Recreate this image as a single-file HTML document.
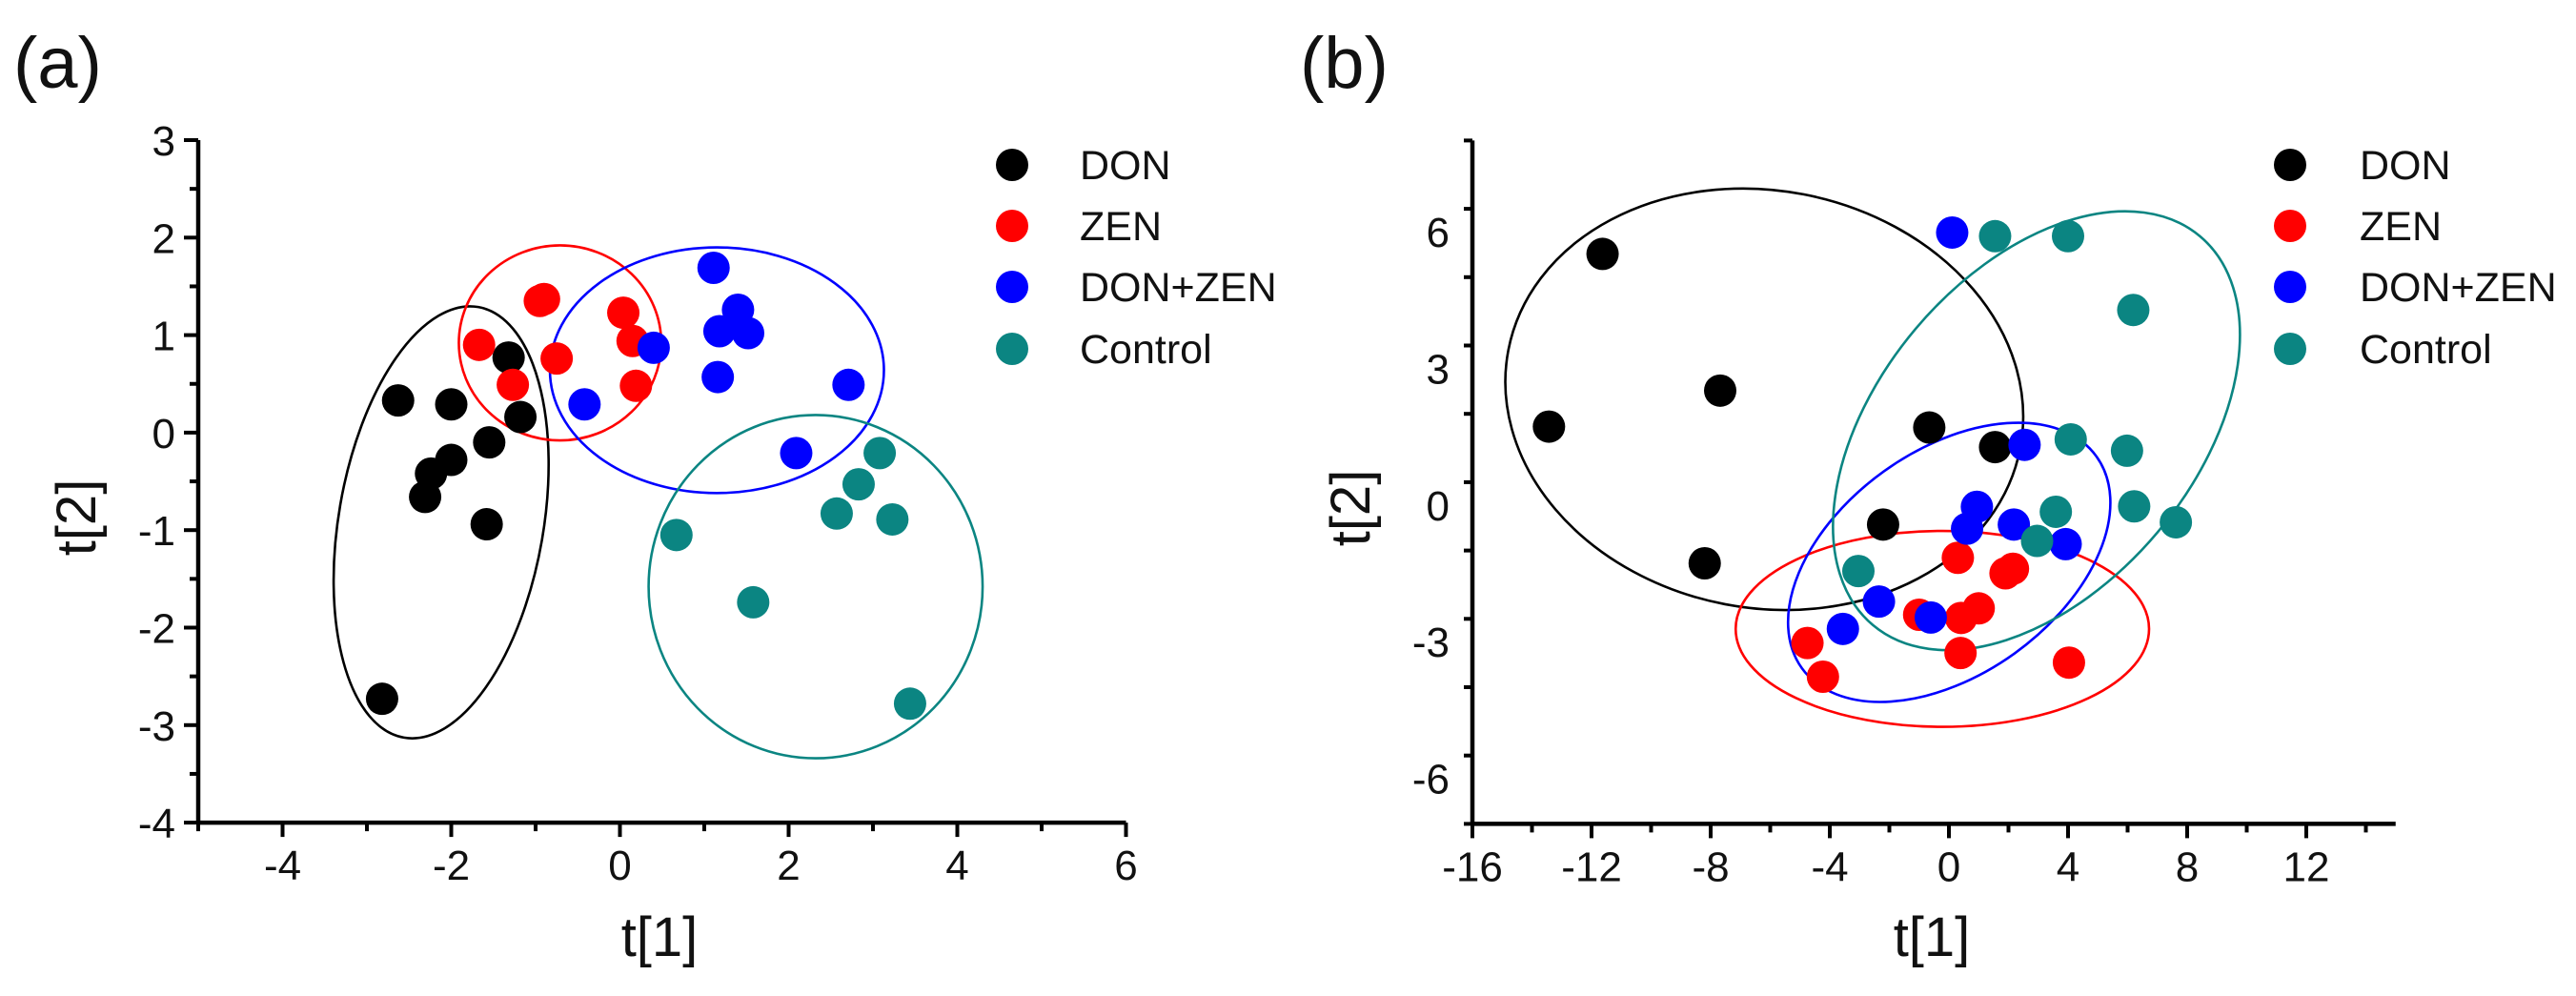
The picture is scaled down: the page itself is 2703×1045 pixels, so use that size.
<!DOCTYPE html>
<html><head><meta charset="utf-8">
<style>
html,body{margin:0;padding:0;background:#fff;}
svg{display:block;font-family:"Liberation Sans",Arial,sans-serif;}
</style></head>
<body>
<svg id="fig" width="2703" height="1045" viewBox="0 0 2703 1045" xmlns="http://www.w3.org/2000/svg">
<rect width="2703" height="1045" fill="#fff"/>
</svg>
<script>
// ---------- Panel (a) data ----------
const groups = ["DON","ZEN","DON+ZEN","Control"];
const colors = ["#000000","#ff0000","#0000ff","#0b8582"];
const aDonX = [-2.63,-2.0,-1.32,-1.18,-1.55,-2.0,-2.24,-2.31,-1.58,-2.82];
const aDonY = [0.33,0.29,0.77,0.16,-0.10,-0.28,-0.42,-0.66,-0.94,-2.73];
const aZenX = [-1.67,-0.95,-0.90,-1.27,-0.75,0.04,0.15,0.19];
const aZenY = [0.90,1.35,1.37,0.49,0.76,1.23,0.94,0.48];
const aMixX = [1.11,1.40,1.18,1.52,0.40,-0.42,1.16,2.71,2.09];
const aMixY = [1.69,1.26,1.04,1.02,0.87,0.29,0.57,0.49,-0.21];
const aCtlX = [3.08,2.83,2.57,3.23,0.67,1.58,3.44];
const aCtlY = [-0.21,-0.53,-0.83,-0.89,-1.05,-1.74,-2.78];
// ellipses: cx, cy, rx, ry (data units), rotation (deg)
const aEllCx = [-2.12,-0.71,1.15,2.32];
const aEllCy = [-0.92,0.92,0.64,-1.58];
const aEllRx = [2.59,1.20,1.98,1.98];
const aEllRy = [1.05,1.0,1.26,1.76];
const aEllRot = [-80.2,0,0,0];
const aXTicks = [-4,-2,0,2,4,6];
const aYTicks = [3,2,1,0,-1,-2,-3,-4];

// ---------- Panel (b) data ----------
const bDonX = [-11.63,-13.43,-7.68,-0.66,1.55,-2.21,-8.2];
const bDonY = [5.51,1.72,2.51,1.70,1.27,-0.43,-1.28];
const bZenX = [0.30,1.9,2.15,-1.0,0.41,1.0,0.39,-4.75,-4.23,4.03];
const bZenY = [-1.16,-1.5,-1.4,-2.41,-2.48,-2.27,-3.25,-3.03,-3.77,-3.46];
const bMixX = [0.11,2.54,0.94,0.61,2.18,3.92,-2.35,-0.61,-3.56];
const bMixY = [5.98,1.32,-0.04,-0.52,-0.43,-0.86,-2.12,-2.47,-2.72];
const bCtlX = [1.55,4.0,6.19,4.09,5.98,6.22,7.62,3.59,2.96,-3.04];
const bCtlY = [5.90,5.90,4.28,1.44,1.19,-0.03,-0.38,-0.15,-0.79,-1.45];
const bEllCx = [-6.2,-0.22,0.01,2.94];
const bEllCy = [2.32,-2.72,-1.26,1.63];
const bEllRx = [8.75,6.94,6.09,8.53];
const bEllRy = [4.58,2.15,2.46,3.47];
const bEllRot = [10.85,0,-35.7,-49.9];
const bXTicks = [-16,-12,-8,-4,0,4,8,12];
const bYTicks = [6,3,0,-3,-6];

const NS = "http://www.w3.org/2000/svg";
const svg = document.getElementById('fig');
function mk(tag, attrs, parent){
  const e = document.createElementNS(NS, tag);
  for (const k in attrs) e.setAttribute(k, attrs[k]);
  (parent||svg).appendChild(e);
  return e;
}

function panel(cfg){
  const g = mk('g',{});
  
  
  const sx = v => cfg.x0 + (v - cfg.xmin) * cfg.kx;
  const sy = v => cfg.y0 + (cfg.ymax - v) * cfg.ky;
  const left = sx(cfg.xmin), right = sx(cfg.xmax), top = sy(cfg.ymax), bottom = sy(cfg.ymin);
  // ellipses
  for (let i=0;i<cfg.ell.cx.length;i++){
    const cx = sx(cfg.ell.cx[i]), cy = sy(cfg.ell.cy[i]);
    const e = mk('ellipse',{cx:cx,cy:cy,rx:cfg.ell.rx[i]*cfg.kx,ry:cfg.ell.ry[i]*cfg.ky,
      transform:`rotate(${cfg.ell.rot[i]} ${cx} ${cy})`,fill:'none',stroke:colors[i],'stroke-width':2.6},g);
    
    
  }
  // points
  for (let i=0;i<cfg.pts.length;i++){
    const [xs, ys] = cfg.pts[i];
    for (let j=0;j<xs.length;j++){
      const c = mk('circle',{cx:sx(xs[j]),cy:sy(ys[j]),r:17,fill:colors[i]},g);
      
      
    }
  }
  // axes
  const ax = mk('line',{x1:left-2,y1:bottom,x2:right,y2:bottom,stroke:'#000','stroke-width':4.5},g);
  
  
  const ay = mk('line',{x1:left,y1:top,x2:left,y2:bottom+2,stroke:'#000','stroke-width':4.5},g);
  
  
  // x ticks
  for (let v=cfg.xmin; v<=cfg.xmax+1e-9; v+=cfg.xminor){
    const isMajor = cfg.xTicks.some(t=>Math.abs(t-v)<1e-9);
    const t = mk('line',{x1:sx(v),y1:bottom,x2:sx(v),y2:bottom+(isMajor?15:9),stroke:'#000','stroke-width':4},g);
    
    
  }
  cfg.xTicks.forEach(v=>{
    const t = mk('text',{x:sx(v),y:bottom+60,'font-size':44,'text-anchor':'middle',fill:'#111'},g);
    t.textContent = String(v);
    
    
  });
  for (let v=cfg.ymin; v<=cfg.ymax+1e-9; v+=cfg.yminor){
    const isMajor = cfg.yTicks.some(t=>Math.abs(t-v)<1e-9);
    const t = mk('line',{x1:left,y1:sy(v),x2:left-(isMajor?15:9),y2:sy(v),stroke:'#000','stroke-width':4},g);
    
    
  }
  cfg.yTicks.forEach(v=>{
    const t = mk('text',{x:left-24,y:sy(v)+16,'font-size':44,'text-anchor':'end',fill:'#111'},g);
    t.textContent = String(v);
    
    
  });
  // axis titles
  const xt = mk('text',{x:cfg.xtX,y:1003,'font-size':58,'text-anchor':'middle',fill:'#111'},g);
  xt.textContent = 't[1]';
  
  
  const yt = mk('text',{x:0,y:0,'font-size':58,'text-anchor':'middle',fill:'#111',
    transform:`translate(${cfg.ytX},${cfg.ytY}) rotate(-90)`},g);
  yt.textContent = 't[2]';
  
  
  // panel label
  const pl = mk('text',{x:cfg.labX,y:92,'font-size':76,fill:'#111'},g);
  pl.textContent = cfg.label;
  
  
  // legend
  const legY = [173,237,301,366];
  groups.forEach((gname,i)=>{
    const lg = mk('g',{},g);
    
    
    mk('circle',{cx:cfg.legX,cy:legY[i],r:17,fill:colors[i]},lg);
    const t = mk('text',{x:cfg.legTX,y:legY[i]+15,'font-size':43,fill:'#111'},lg);
    t.textContent = gname;
  });
}

panel({name:'panel-a', x0:208, xmin:-5, xmax:6, kx:88.5, y0:147, ymin:-4, ymax:3, ky:102.3,
  xminor:1, yminor:0.5, xTicks:aXTicks, yTicks:aYTicks,
  pts:[[aDonX,aDonY],[aZenX,aZenY],[aMixX,aMixY],[aCtlX,aCtlY]],
  ell:{cx:aEllCx,cy:aEllCy,rx:aEllRx,ry:aEllRy,rot:aEllRot},
  xtX:692, ytX:100, ytY:543, labX:14, label:'(a)', legX:1062, legTX:1133});

panel({name:'panel-b', x0:1545, xmin:-16, xmax:15, kx:31.25, y0:147.4, ymin:-7, ymax:8, ky:47.8,
  xminor:2, yminor:1.5, xTicks:bXTicks, yTicks:bYTicks,
  pts:[[bDonX,bDonY],[bZenX,bZenY],[bMixX,bMixY],[bCtlX,bCtlY]],
  ell:{cx:bEllCx,cy:bEllCy,rx:bEllRx,ry:bEllRy,rot:bEllRot},
  xtX:2027, ytX:1437, ytY:533, labX:1364, label:'(b)', legX:2403, legTX:2476});
</script>
</body></html>
